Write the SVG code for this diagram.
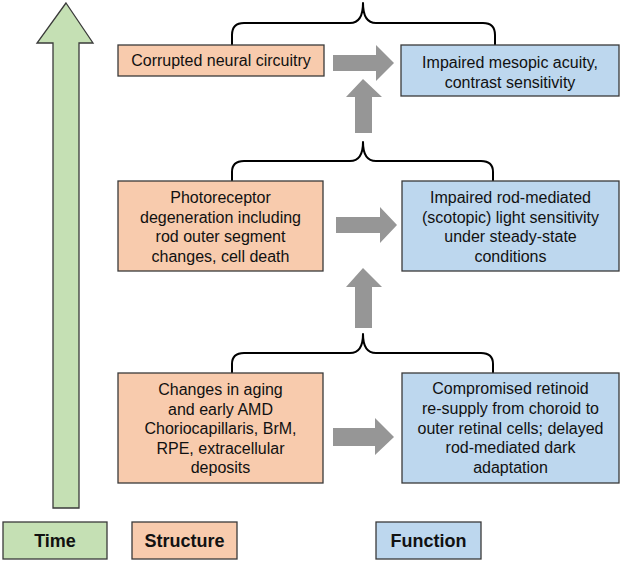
<svg xmlns="http://www.w3.org/2000/svg" width="625" height="562" viewBox="0 0 625 562">
<style>
.s{fill:#f8cbad;stroke:#3a3a3a;stroke-width:1.3}
.f{fill:#bdd7ee;stroke:#3a3a3a;stroke-width:1.3}
.t{fill:#c5e0b4;stroke:#3a3a3a;stroke-width:1.3}
.g{fill:#969696;stroke:none}
.br{fill:none;stroke:#000;stroke-width:2;stroke-linejoin:round}
text{font-family:"Liberation Sans",Arial,sans-serif;font-size:16px;fill:#111;text-anchor:middle}
.lg{font-weight:bold;font-size:18px}
</style>
<rect width="625" height="562" fill="#fff"/>
<g id="time-arrow"><polygon class="t" points="66,3 93,43 79,43 79,508 53,508 53,43 37,43"/></g>
<g id="connectors">
<path class="br" d="M232,45 V35 Q232,23 244,23 H350 Q363,23 363,3 Q363,23 376,23 H483 Q495,23 495,35 V45"/>
<path class="br" d="M232,181 V172 Q232,161 244,161 H350 Q363,161 363,142 Q363,161 376,161 H481 Q493,161 493,172 V181"/>
<path class="br" d="M232,373 V364 Q232,353 244,353 H350 Q363,353 363,334 Q363,353 376,353 H481 Q493,353 493,364 V373"/>
<polygon class="g" points="333,55 376,55 376,45 394,63 376,81 376,71 333,71"/>
<polygon class="g" points="336,217 380,217 380,207 397,225 380,243 380,233 336,233"/>
<polygon class="g" points="333,428 375,428 375,418 394,437 375,455 375,446 333,446"/>
<polygon class="g" points="363,79 382,97 372,97 372,133 355,133 355,97 346,97"/>
<polygon class="g" points="363,268 382,287 372,287 372,328 355,328 355,287 346,287"/>
</g>
<g id="s1"><rect class="s" x="118" y="45" width="206" height="31"/><text x="221" y="66">Corrupted neural circuitry</text></g>
<g id="f1"><rect class="f" x="401" y="45" width="218" height="51"/><text x="510" y="67.5">Impaired mesopic acuity,</text><text x="510" y="87.5">contrast sensitivity</text></g>
<g id="s2"><rect class="s" x="118" y="181" width="205" height="90"/><text x="220.5" y="203">Photoreceptor</text><text x="220.5" y="222.5">degeneration including</text><text x="220.5" y="242">rod outer segment</text><text x="220.5" y="262">changes, cell death</text></g>
<g id="f2"><rect class="f" x="402" y="181" width="217" height="90"/><text x="510.5" y="203">Impaired rod-mediated</text><text x="510.5" y="222.5">(scotopic) light sensitivity</text><text x="510.5" y="242">under steady-state</text><text x="510.5" y="262">conditions</text></g>
<g id="s3"><rect class="s" x="118" y="373" width="205" height="110"/><text x="220.5" y="395">Changes in aging</text><text x="220.5" y="414.5">and early AMD</text><text x="220.5" y="434">Choriocapillaris, BrM,</text><text x="220.5" y="453.5">RPE, extracellular</text><text x="220.5" y="473">deposits</text></g>
<g id="f3"><rect class="f" x="402" y="373" width="217" height="110"/><text x="510.5" y="394">Compromised retinoid</text><text x="510.5" y="414">re-supply from choroid to</text><text x="510.5" y="433.5">outer retinal cells; delayed</text><text x="510.5" y="453">rod-mediated dark</text><text x="510.5" y="473">adaptation</text></g>
<g id="legend-time"><rect class="t" x="3" y="522" width="104" height="37"/><text class="lg" x="55" y="547">Time</text></g>
<g id="legend-structure"><rect class="s" x="132" y="522" width="105" height="37"/><text class="lg" x="184.5" y="547">Structure</text></g>
<g id="legend-function"><rect class="f" x="376" y="522" width="105" height="37"/><text class="lg" x="428.5" y="547">Function</text></g>
</svg>
